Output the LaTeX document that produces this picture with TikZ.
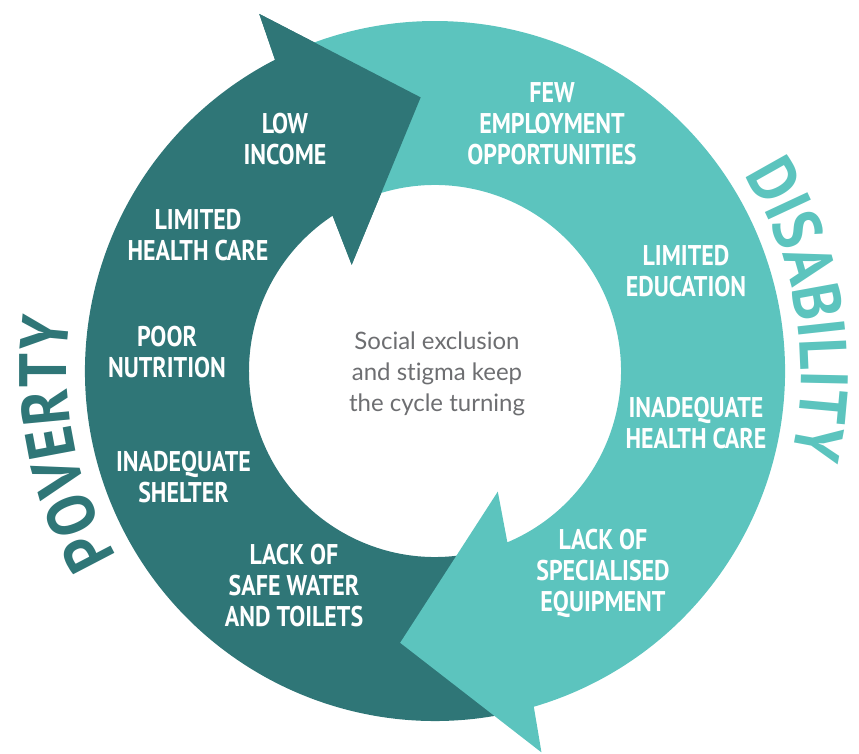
\documentclass[tikz,border=0pt]{standalone}
\usepackage{fontspec}
\usetikzlibrary{decorations.text}
\newfontfamily\condfont{PT Sans}[FakeStretch=0.84]
\newfontfamily\ringcondfont{PT Sans}[FakeStretch=0.89]
\newfontfamily\bodyfont{Lato}[Ligatures={NoCommon,NoRare}]
\definecolor{povteal}{HTML}{2F7677}
\definecolor{disteal}{HTML}{5CC4BE}
\definecolor{midgray}{HTML}{6D6E71}

\begin{document}
\begin{tikzpicture}[x=1pt, y=1pt,
  cause/.style={align=center, text=white, inner sep=0pt,
    font=\condfont\bfseries\fontsize{28.5}{31}\selectfont},
  centre/.style={align=center, text=midgray, inner sep=0pt,
    font=\bodyfont\fontsize{24}{31}\selectfont}]

\useasboundingbox (-435,-382) rectangle (424,371);

% Poverty arrow (dark), running clockwise up the left side
\fill[povteal] (93:274) -- (116.2:398) -- (117.2:350)
  arc[start angle=117.2, end angle=282, radius=350] -- (282:186)
  arc[start angle=282, end angle=123.4, radius=186] -- (128.1:135) -- cycle;

% Disability arrow (light), running clockwise down the right side
\fill[disteal] (-97.3:274) -- (-74.4:396) -- (-73.6:350)
  arc[start angle=-73.6, end angle=112, radius=350] -- (112:186)
  arc[start angle=112, end angle=-67.1, radius=186] -- (-62.5:136) -- cycle;

% Poverty arrowhead on top of the disability tail
\fill[povteal] (93:274) -- (116.2:398) -- (117.2:350) -- (123.4:186)
  -- (128.1:135) -- cycle;

% Ring titles
\path[decorate, decoration={text along path, text align=center,
    text color=povteal,
    text={|\ringcondfont\bfseries\fontsize{67}{67}\selectfont|POVERTY}}]
  (226:368) arc[start angle=226, end angle=156, radius=368];
\path[decorate, decoration={text along path, text align=center,
    text color=disteal,
    text={|\ringcondfont\bfseries\fontsize{67}{67}\selectfont|DISABILITY}}]
  (49.5:366) arc[start angle=49.5, end angle=-30.5, radius=366];

% Causes on the poverty side
\node[cause] (lowincome) at (-150,232) {LOW\\INCOME};
\node[cause] (healthcare) at (-237,136) {LIMITED\\HEALTH CARE};
\node[cause] (nutrition) at (-268,19) {POOR\\NUTRITION};
\node[cause] (shelter) at (-251.5,-106.5) {INADEQUATE\\SHELTER};
\node[cause] (water) at (-141,-215) {LACK OF\\SAFE WATER\\AND TOILETS};

% Causes on the disability side
\node[cause] (employment) at (117,247.5) {FEW\\EMPLOYMENT\\OPPORTUNITIES};
\node[cause] (education) at (251,99.5) {LIMITED\\EDUCATION};
\node[cause] (inadhealth) at (261,-52) {INADEQUATE\\HEALTH CARE};
\node[cause] (equipment) at (168,-202) {LACK OF\\SPECIALISED\\EQUIPMENT};

% Centre
\node[centre] (exclusion) at (2,-3) {Social exclusion\\and stigma keep\\the cycle turning};

\end{tikzpicture}
\end{document}
